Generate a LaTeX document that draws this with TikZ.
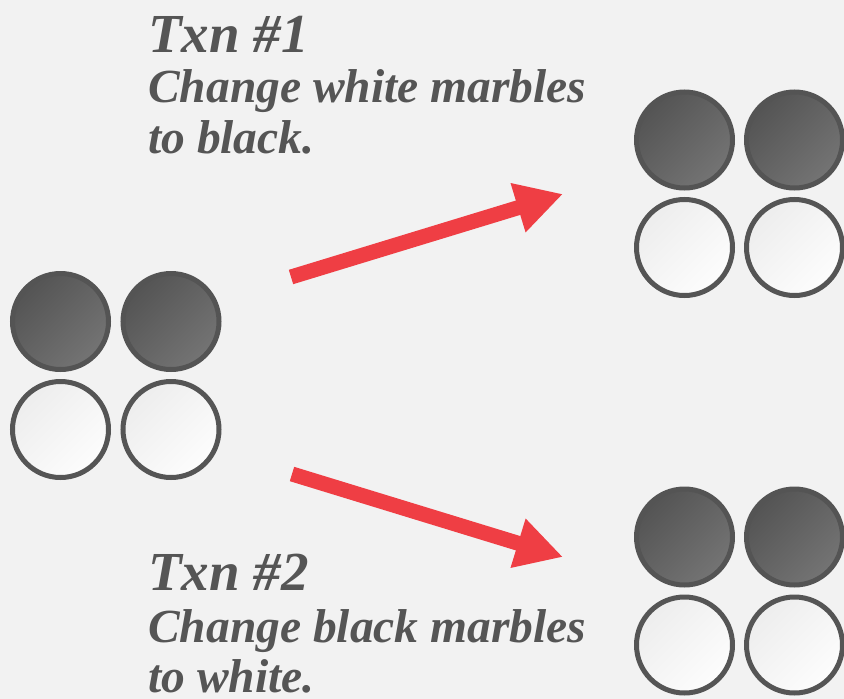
\documentclass[tikz,border=0pt]{standalone}
\usepackage{fontspec}
\setmainfont{Liberation Serif}
\usetikzlibrary{arrows.meta}
\definecolor{bg}{HTML}{F2F2F2}
\definecolor{ink}{HTML}{555555}
\definecolor{arrowred}{HTML}{EF3E44}
\definecolor{darkA}{HTML}{545454}
\definecolor{darkB}{HTML}{747474}
\definecolor{lightA}{HTML}{EDEDED}
\definecolor{lightB}{HTML}{FDFDFD}
\tikzset{
  marbledark/.style={circle, minimum size=96pt, inner sep=0pt, line width=5pt, draw=darkA,
    shading=axis, top color=darkA, bottom color=darkB, shading angle=45},
  marblelight/.style={circle, minimum size=96pt, inner sep=0pt, line width=5pt, draw=ink,
    shading=axis, top color=lightA, bottom color=lightB, shading angle=45},
  bigarrow/.style={draw=arrowred, line width=15pt, -{Triangle[length=47pt,width=48pt]}},
  titletxt/.style={anchor=base west, inner sep=0pt, text=ink, font=\fontsize{55}{60}\selectfont\bfseries\itshape},
  bodytxt/.style={anchor=base west, inner sep=0pt, text=ink, font=\fontsize{47.5}{50}\selectfont\bfseries\itshape},
}
\begin{document}
\begin{tikzpicture}[x=1pt,y=-1pt]
\fill[bg] (0,0) rectangle (844,699);
\useasboundingbox (0,0) rectangle (844,699);

% left group
\node[marbledark]  (L1) at (60.5,321.5) {};
\node[marbledark]  (L2) at (171,321.5) {};
\node[marblelight] (L3) at (60.5,429.5) {};
\node[marblelight] (L4) at (171,429.5) {};

% right top group
\node[marbledark]  (A1) at (684.5,140) {};
\node[marbledark]  (A2) at (794.5,140) {};
\node[marblelight] (A3) at (684.5,247.5) {};
\node[marblelight] (A4) at (794.5,247.5) {};

% right bottom group
\node[marbledark]  (B1) at (684.5,537) {};
\node[marbledark]  (B2) at (794.5,537) {};
\node[marblelight] (B3) at (684.5,645) {};
\node[marblelight] (B4) at (794.5,645) {};

% arrows
\coordinate (a1s) at (291,277);
\coordinate (a1e) at (563,194);
\coordinate (a2s) at (292,474);
\coordinate (a2e) at (563,557);
\draw[bigarrow] (a1s) -- (a1e);
\draw[bigarrow] (a2s) -- (a2e);

% texts
\node[titletxt] (t1a) at (148,52) {Txn \#1};
\node[bodytxt]  (t1b) at (148,102) {Change white marbles};
\node[bodytxt]  (t1c) at (148,153) {to black.};

\node[titletxt] (t2a) at (148,590) {Txn \#2};
\node[bodytxt]  (t2b) at (148,642) {Change black marbles};
\node[bodytxt, text depth=0pt]  (t2c) at (148,692) {to white.};
\end{tikzpicture}
\end{document}
